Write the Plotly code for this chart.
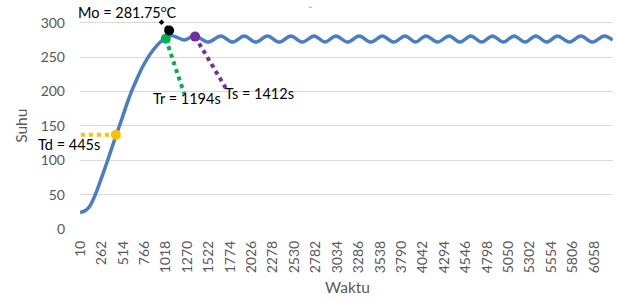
import plotly.graph_objects as go

# ---- data ----
time_s = [10, 60, 110, 160, 210, 260, 320, 380, 440, 500, 560, 620, 680, 740, 800,
          860, 920, 980, 1030, 1060, 1150, 1235, 1363, 1515, 1666, 1803, 1940, 2077,
          2214, 2352, 2489, 2626, 2763, 2891, 3019, 3156, 3293, 3430, 3567, 3700,
          3834, 3956, 4078, 4215, 4352, 4480, 4607, 4735, 4862, 4990, 5117, 5245,
          5372, 5499, 5626, 5764, 5902, 6039, 6176, 6275]
suhu = [24, 26, 31, 42, 57, 74, 95, 117, 139, 160, 182, 202, 219, 235, 248,
        259, 268, 275, 280, 282, 279, 275, 281, 272, 281, 272, 281, 272,
        281, 272, 281, 272, 281, 272, 281, 272, 281, 272, 281, 272,
        281, 272, 281, 272, 281, 272, 281, 272, 281, 272, 281, 272,
        281, 272, 281, 272, 281, 272, 281, 275]

x_ticks = [10, 262, 514, 766, 1018, 1270, 1522, 1774, 2026, 2278, 2530, 2782, 3034,
           3286, 3538, 3790, 4042, 4294, 4546, 4798, 5050, 5302, 5554, 5806, 6058]
y_ticks = [0, 50, 100, 150, 200, 250, 300]

# marker points (x, y) and their dotted leader lines
td_pt = (430, 137)
tr_pt = (1018, 277)
mo_pt = (1057, 289)
ts_pt = (1362, 280)
td_line_x, td_line_y = [18, 430], [137, 137]
tr_line_x, tr_line_y = [1018, 1234], [277, 197]
ts_line_x, ts_line_y = [1362, 1724], [280, 205]
mo_line_x, mo_line_y = [951, 1057], [303, 289]

labels = {
    "mo": "Mo = 281.75<sup>o</sup>C",
    "tr": "Tr = 1194s",
    "ts": "Ts = 1412s",
    "td": "Td = 445s",
}

FONT = "Lato, 'Open Sans', sans-serif"
GREY = "#595959"

fig = go.Figure()
fig.add_trace(go.Scatter(x=time_s, y=suhu, mode="lines",
                         line=dict(color="#4A7EC0", width=3.5, shape="spline"),
                         hoverinfo="skip", showlegend=False))

def leader(xs, ys, color):
    fig.add_trace(go.Scatter(x=xs, y=ys, mode="lines",
                             line=dict(color=color, width=4, dash="dot"),
                             showlegend=False, hoverinfo="skip"))

def point(p, color):
    fig.add_trace(go.Scatter(x=[p[0]], y=[p[1]], mode="markers",
                             marker=dict(color=color, size=10),
                             cliponaxis=False, showlegend=False, hoverinfo="skip"))

leader(td_line_x, td_line_y, "#FFC000")
leader(tr_line_x, tr_line_y, "#00B050")
leader(ts_line_x, ts_line_y, "#7030A0")
leader(mo_line_x, mo_line_y, "#000000")
point(td_pt, "#FFC000")
point(tr_pt, "#00B050")
point(ts_pt, "#7030A0")
point(mo_pt, "#000000")

ann_font = dict(family=FONT, size=14.5, color="#000000")
annotations = [
    dict(text=labels["mo"], x=0.090, y=1.019, xref="paper", yref="paper",
         showarrow=False, font=ann_font, xanchor="center", yanchor="middle"),
    dict(text=labels["tr"], x=0.2008, y=0.6136, xref="paper", yref="paper",
         showarrow=False, font=ann_font, xanchor="center", yanchor="middle"),
    dict(text=labels["ts"], x=0.3368, y=0.634, xref="paper", yref="paper",
         showarrow=False, font=ann_font, xanchor="center", yanchor="middle"),
    dict(text=labels["td"], x=-0.021, y=0.398, xref="paper", yref="paper",
         showarrow=False, font=ann_font, xanchor="center", yanchor="middle"),
    dict(text="Waktu", x=0.501, y=-0.272, xref="paper", yref="paper",
         showarrow=False, font=dict(family=FONT, size=15.5, color=GREY),
         xanchor="center", yanchor="middle"),
    dict(text="Suhu", x=-0.111, y=0.4836, xref="paper", yref="paper", textangle=-90,
         showarrow=False, font=dict(family=FONT, size=15.5, color=GREY),
         xanchor="center", yanchor="middle"),
    dict(text="˘", x=0.432, y=1.072, xref="paper", yref="paper",
         showarrow=False, font=dict(family=FONT, size=12, color="#A6A6A6"),
         xanchor="center", yanchor="top"),
]

fig.update_layout(
    width=617, height=300,
    margin=dict(l=80, r=4, t=16, b=71),
    paper_bgcolor="white", plot_bgcolor="white",
    font=dict(family=FONT, size=14, color=GREY),
    annotations=annotations,
    showlegend=False,
)
fig.update_xaxes(range=[8, 6280], tickmode="array", tickvals=x_ticks,
                 ticktext=[str(v) for v in x_ticks], tickangle=-90,
                 showgrid=False, zeroline=False, showline=False,
                 ticks="", ticklabelstandoff=8,
                 tickfont=dict(family=FONT, size=14, color=GREY))
fig.update_yaxes(range=[0, 310], tickmode="array", tickvals=y_ticks,
                 showgrid=True, gridcolor="#D9D9D9", gridwidth=1,
                 zeroline=False, showline=False, ticks="", ticklabelstandoff=14,
                 tickfont=dict(family=FONT, size=14, color=GREY))

fig.write_html("out.html", config={"displayModeBar": False},
               post_script="document.body.style.margin='0px';")
